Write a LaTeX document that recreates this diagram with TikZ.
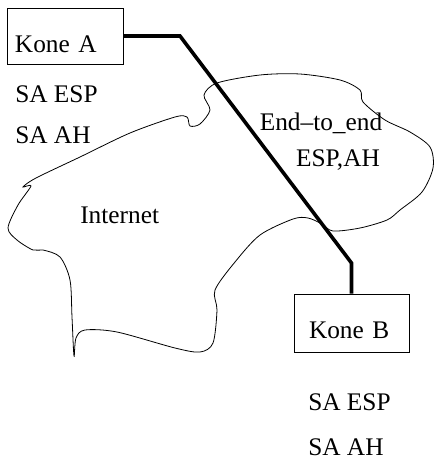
\documentclass[tikz,border=0pt]{standalone}
\usepackage{fontspec}
\setmainfont{Liberation Serif}
\begin{document}
\begin{tikzpicture}[x=0.75pt,y=-0.75pt,
    every node/.style={font=\fontsize{19}{22}\selectfont},
    kone/.style={draw,line width=0.6pt,align=left,inner ysep=0pt},
    teksti/.style={anchor=base west,inner sep=0pt},
    yhteys/.style={line width=2.7pt}]
        \useasboundingbox (0,0) rectangle (436,461);
        % Internet pilvi
        \draw[line width=0.6pt] plot[smooth cycle,tension=0.5] coordinates {
            (8,228) (18,205) (31,186) (23,187) (36,178) (80,157) (130,133)
            (175,117) (187,117) (190,126) (200,124) (210,110) (204,95)
            (217,83) (260,75) (300,74) (340,80) (360,90) (363,102) (385,120)
            (410,132) (430,147) (433,168) (422,192) (400,210) (387,220)
            (360,228) (333,231) (322,224) (308,218) (293,219) (260,235)
            (235,262) (215,290) (217,310) (213,343) (200,352) (175,348)
            (117,332) (85,330) (76,338) (74,356) (72,317) (70,280) (60,257)
            (43,250) (33,250) (17,240)};
        \node[kone,inner xsep=6pt,text width=75pt,text height=33pt,text depth=9pt] (konea) at (65,36) {Kone A};
        \node[kone,inner xsep=11.25pt,text width=63.75pt,text height=33pt,text depth=10.5pt] (koneb) at (351.5,323) {Kone B};
        \node[teksti] (saespa) at (15,102) {SA ESP};
        \node[teksti] (saaha) at (15,143) {SA AH};
        \node[teksti] (saespb) at (308,410) {SA ESP};
        \node[teksti] (saahb) at (308,455) {SA AH};
        \node[teksti] (internet) at (80,223) {Internet};
        \node[anchor=base,inner sep=0pt] (e2e) at (321,130) {End--to\_end};
        \node[anchor=base,inner sep=0pt] (espah) at (338,166) {ESP,AH};
        \coordinate (mutka1) at (180,36);
        \coordinate (mutka2) at (351.5,263);
        \draw[yhteys] (konea.east) -- (mutka1) -- (mutka2) -- (koneb.north);
\end{tikzpicture}
\end{document}
